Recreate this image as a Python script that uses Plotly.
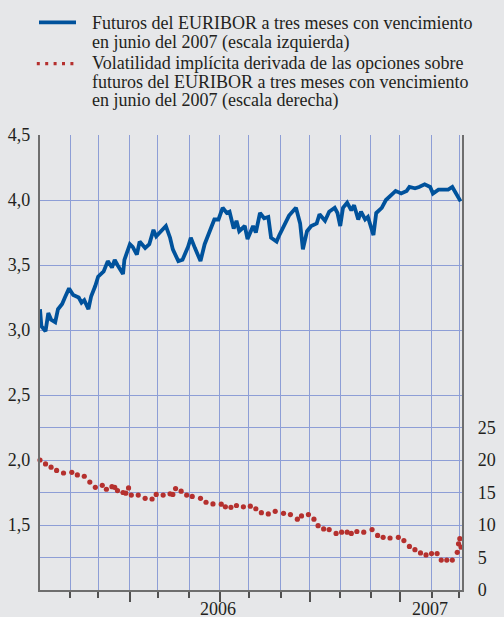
import plotly.graph_objects as go

# ---------------- data ----------------
blue_dates = [
    "2006-01-02", "2006-01-03", "2006-01-06", "2006-01-10", "2006-01-12", "2006-01-17", "2006-01-19",
    "2006-01-24", "2006-01-26", "2006-01-31", "2006-02-03", "2006-02-09", "2006-02-13", "2006-02-15",
    "2006-02-20", "2006-02-22", "2006-02-27", "2006-03-01", "2006-03-07", "2006-03-10", "2006-03-15",
    "2006-03-17", "2006-03-21", "2006-03-27", "2006-03-28", "2006-04-03", "2006-04-05", "2006-04-10",
    "2006-04-12", "2006-04-18", "2006-04-21", "2006-04-26", "2006-04-28", "2006-05-04", "2006-05-09",
    "2006-05-12", "2006-05-16", "2006-05-22", "2006-05-25", "2006-05-31", "2006-06-02", "2006-06-07",
    "2006-06-13", "2006-06-16", "2006-06-22", "2006-06-27", "2006-06-30", "2006-07-05", "2006-07-10",
    "2006-07-12", "2006-07-17", "2006-07-19", "2006-07-21", "2006-07-27", "2006-07-31", "2006-08-04",
    "2006-08-08", "2006-08-11", "2006-08-16", "2006-08-21", "2006-08-23", "2006-08-29", "2006-08-31",
    "2006-09-06", "2006-09-11", "2006-09-18", "2006-09-21", "2006-09-25", "2006-09-28", "2006-10-03",
    "2006-10-09", "2006-10-11", "2006-10-17", "2006-10-20", "2006-10-26", "2006-10-30", "2006-11-01",
    "2006-11-03", "2006-11-08", "2006-11-13", "2006-11-15", "2006-11-20", "2006-11-22", "2006-11-27",
    "2006-11-29", "2006-12-05", "2006-12-07", "2006-12-13", "2006-12-18", "2006-12-22", "2006-12-27",
    "2007-01-02", "2007-01-08", "2007-01-10", "2007-01-16", "2007-01-19", "2007-01-25", "2007-01-31",
    "2007-02-02", "2007-02-08", "2007-02-13", "2007-02-19", "2007-02-22", "2007-02-27", "2007-03-02",
]
blue_values = [
    3.16, 3.03, 2.99, 3.13, 3.08, 3.06, 3.16,
    3.20, 3.25, 3.32, 3.27, 3.25, 3.21, 3.23,
    3.16, 3.26, 3.34, 3.41, 3.45, 3.53, 3.48,
    3.54, 3.50, 3.43, 3.54, 3.66, 3.64, 3.58,
    3.68, 3.63, 3.66, 3.77, 3.72, 3.77, 3.80,
    3.71, 3.62, 3.53, 3.54, 3.64, 3.71, 3.63,
    3.53, 3.66, 3.77, 3.85, 3.85, 3.94, 3.90,
    3.91, 3.78, 3.84, 3.76, 3.80, 3.70, 3.80,
    3.75, 3.90, 3.86, 3.87, 3.71, 3.68, 3.73,
    3.82, 3.88, 3.94, 3.82, 3.62, 3.76, 3.80,
    3.82, 3.89, 3.84, 3.91, 3.94, 3.90, 3.80,
    3.94, 3.98, 3.92, 3.96, 3.85, 3.91, 3.85,
    3.87, 3.73, 3.90, 3.94, 4.00, 4.04, 4.07,
    4.05, 4.07, 4.10, 4.09, 4.10, 4.12, 4.10,
    4.05, 4.08, 4.08, 4.08, 4.10, 4.05, 3.99,
]

red_dates = [
    "2006-01-02", "2006-01-06", "2006-01-12", "2006-01-18", "2006-01-25", "2006-02-02", "2006-02-08",
    "2006-02-15", "2006-02-21", "2006-02-27", "2006-03-06", "2006-03-09", "2006-03-15", "2006-03-17",
    "2006-03-21", "2006-03-27", "2006-03-29", "2006-03-31", "2006-04-04", "2006-04-11", "2006-04-18",
    "2006-04-25", "2006-04-28", "2006-05-05", "2006-05-12", "2006-05-16", "2006-05-18", "2006-05-24",
    "2006-05-30", "2006-06-05", "2006-06-13", "2006-06-19", "2006-06-26", "2006-07-04", "2006-07-07",
    "2006-07-13", "2006-07-19", "2006-07-26", "2006-08-02", "2006-08-08", "2006-08-14", "2006-08-21",
    "2006-08-28", "2006-09-05", "2006-09-12", "2006-09-19", "2006-09-22", "2006-09-29", "2006-10-05",
    "2006-10-10", "2006-10-16", "2006-10-20", "2006-10-27", "2006-11-02", "2006-11-08", "2006-11-13",
    "2006-11-17", "2006-11-24", "2006-12-04", "2006-12-08", "2006-12-14", "2006-12-21", "2006-12-29",
    "2007-01-04", "2007-01-10", "2007-01-16", "2007-01-22", "2007-01-26", "2007-02-01", "2007-02-07",
    "2007-02-12", "2007-02-16", "2007-02-22", "2007-02-27 14:00", "2007-02-28 12:00",
    "2007-03-01 10:00", "2007-03-02 07:00",
]
red_values = [
    20.0, 19.4, 18.9, 18.4, 18.0, 18.1, 17.7,
    17.5, 16.6, 15.8, 16.1, 15.5, 15.9, 15.8,
    15.3, 15.0, 14.9, 15.7, 14.6, 14.6, 14.1,
    14.0, 14.7, 14.6, 14.8, 14.7, 15.6, 15.2,
    14.6, 14.4, 14.1, 13.5, 13.25, 13.2, 12.8,
    12.7, 13.0, 12.8, 12.9, 12.5, 11.9, 11.7,
    12.1, 11.8, 11.6, 10.9, 11.4, 11.6, 10.9,
    9.9, 9.4, 9.3, 8.7, 8.9, 8.9, 8.7,
    9.0, 8.9, 9.3, 8.4, 8.1, 8.0, 8.1,
    7.6, 6.7, 6.2, 5.7, 5.4, 5.6, 5.6,
    4.6, 4.6, 4.6, 5.8, 7.1,
    7.9, 6.6,
]

left_tickvals = [1.5, 2.0, 2.5, 3.0, 3.5, 4.0, 4.5]
left_ticktext = ["1,5", "2,0", "2,5", "3,0", "3,5", "4,0", "4,5"]
right_tickvals = [0, 5, 10, 15, 20, 25]
right_ticktext = ["0", "5", "10", "15", "20", "25"]
year_tickvals = ["2006-06-30", "2007-01-31"]
year_ticktext = ["2006", "2007"]

legend_blue = ["Futuros del EURIBOR a tres meses con vencimiento",
               "en junio del 2007 (escala izquierda)"]
legend_red = ["Volatilidad implícita derivada de las opciones sobre",
              "futuros del EURIBOR a tres meses con vencimiento",
              "en junio del 2007 (escala derecha)"]

x_range = ["2006-01-02", "2007-03-03"]
left_range = [1.0, 4.5]
right_range = [0, 70]

# ---------------- style ----------------
FONT = "Liberation Serif"
TXT = "#231f20"
BG = "#e6e7e9"
GRID = "#8d9ed6"
AXIS = "#6e6e6e"
TICK = "#505050"
BLUE = "#00529c"
RED = "#b5302e"

W, H = 504, 617
L, R, T, B = 40, 42, 135, 27
PW, PH = W - L - R, H - T - B


def px(x):
    return (x - L) / PW


def py(y):
    return (H - B - y) / PH


fig = go.Figure()
fig.add_trace(go.Scatter(x=blue_dates, y=blue_values, mode="lines",
                         line=dict(color=BLUE, width=3.8), yaxis="y", xaxis="x",
                         showlegend=False, hoverinfo="skip"))
fig.add_trace(go.Scatter(x=red_dates, y=red_values, mode="markers",
                         marker=dict(color=RED, size=5.2, line=dict(width=0)),
                         yaxis="y2", xaxis="x", cliponaxis=False,
                         showlegend=False, hoverinfo="skip"))

annotations = []
ys_blue = [22.7, 42.2]
ys_red = [63.2, 81.8, 100.3]
for txt, yy in zip(legend_blue + legend_red, ys_blue + ys_red):
    annotations.append(dict(text=txt, xref="paper", yref="paper", x=px(89.5), y=py(yy),
                            xanchor="left", yanchor="middle", showarrow=False,
                            font=dict(family=FONT, size=18, color=TXT)))
# year labels, centred in each year's span on the date axis
for xv, txt in zip(year_tickvals, year_ticktext):
    annotations.append(dict(text=txt, xref="x", yref="paper", x=xv, y=py(597),
                            xanchor="center", yanchor="top", showarrow=False,
                            font=dict(family=FONT, size=18, color=TXT)))

shapes = [
    dict(type="line", xref="paper", yref="paper", x0=px(39), x1=px(76), y0=py(22.4), y1=py(22.4),
         line=dict(color=BLUE, width=3.6)),
    dict(type="line", xref="paper", yref="paper", x0=px(36.8), x1=px(76), y0=py(63.6), y1=py(63.6),
         line=dict(color=RED, width=3.2, dash="3px,5.4px")),
]

fig.update_layout(
    template="none",
    width=W, height=H,
    margin=dict(l=L, r=R, t=T, b=B, pad=0, autoexpand=False),
    paper_bgcolor=BG, plot_bgcolor=BG,
    showlegend=False,
    font=dict(family=FONT, size=18, color=TXT),
    xaxis=dict(type="date", range=x_range, rangebreaks=[dict(bounds=["sat", "mon"])],
               automargin=False, zeroline=False, fixedrange=True,
               tickmode="linear", tick0="2006-01-01", dtick="M3",
               ticks="outside", ticklen=10, tickwidth=1.6, tickcolor=TICK,
               showticklabels=False, showgrid=True, gridcolor=GRID, gridwidth=1.3,
               showline=True, linecolor=AXIS, linewidth=1.6,
               minor=dict(tickmode="linear", tick0="2006-01-01", dtick="M1",
                          ticks="outside", ticklen=6, tickwidth=1.6, tickcolor=TICK,
                          showgrid=True, gridcolor=GRID, gridwidth=1.3)),
    yaxis=dict(range=left_range, tickmode="array", tickvals=left_tickvals, ticktext=left_ticktext,
               ticks="", showgrid=True, gridcolor=GRID, gridwidth=1.3, zeroline=False,
               showline=True, linecolor=AXIS, linewidth=2.2, side="left", automargin=False,
               tickfont=dict(family=FONT, size=18, color=TXT), ticklabelstandoff=4,
               fixedrange=True),
    yaxis2=dict(range=right_range, overlaying="y", side="right", anchor="x", tickmode="array",
                tickvals=right_tickvals, ticktext=right_ticktext, ticks="", automargin=False,
                showgrid=True, gridcolor=GRID, gridwidth=1.3, zeroline=False,
                showline=True, linecolor=AXIS, linewidth=2.2,
                tickfont=dict(family=FONT, size=18, color=TXT), ticklabelstandoff=10,
                fixedrange=True),
    annotations=annotations,
    shapes=shapes,
)

fig.write_html("out.html", config={"displayModeBar": False},
               post_script="document.body.style.margin='0px';document.body.style.overflow='hidden';")
